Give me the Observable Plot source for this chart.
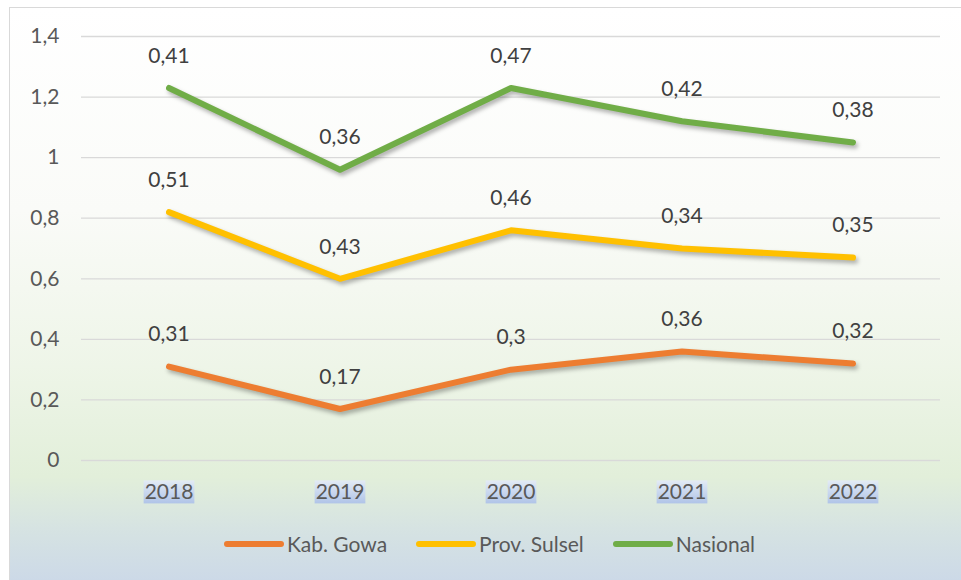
<!DOCTYPE html>
<html>
<head>
<meta charset="utf-8">
<script src="https://cdn.jsdelivr.net/npm/d3@7"></script>
<script src="https://cdn.jsdelivr.net/npm/@observablehq/plot@0.6"></script>
<style>
  html, body { margin: 0; padding: 0; background: #fff; }
  #frame {
    position: absolute; left: 9px; top: 7px; width: 960px; height: 580px;
    border: 1px solid #d9d9d9; box-sizing: border-box;
    background: linear-gradient(to bottom, #ffffff 0%, #fafbf8 35%, #eef5e8 62%, #e2efda 81%, #d6e3e2 90%, #cbd8e8 100%);
    font-family: Lato, "Open Sans", sans-serif; color: #595959;
  }
  #chart { position: absolute; left: 0; top: 0; }
  #legend {
    position: absolute; left: 0; width: 100%; top: 523px;
    display: flex; justify-content: center; align-items: center;
    font-size: 21px; color: #595959; padding-right: 0px; box-sizing: border-box;
  }
  .item { display: flex; align-items: center; margin: 0 14px; }
  .item svg { margin-right: 2px; }
</style>
</head>
<body>
<div id="frame">
  <div id="chart"></div>
  <div id="legend"></div>
</div>
<script>
const years = ["2018", "2019", "2020", "2021", "2022"];
const seriesNames = ["Kab. Gowa", "Prov. Sulsel", "Nasional"];
const kabGowa = [0.31, 0.17, 0.3, 0.36, 0.32];
const provSulsel = [0.51, 0.43, 0.46, 0.34, 0.35];
const nasional = [0.41, 0.36, 0.47, 0.42, 0.38];
const colors = ["#ED7D31", "#FFC000", "#70AD47"];
const yTicks = [0, 0.2, 0.4, 0.6, 0.8, 1, 1.2, 1.4];

const seriesValues = [kabGowa, provSulsel, nasional];
const fmt = v => String(v).replace(".", ",");

// stacked line data
const data = [];
years.forEach((yr, i) => {
  let cum = 0;
  seriesNames.forEach((s, k) => {
    const v = seriesValues[k][i];
    cum = Math.round((cum + v) * 1000) / 1000;
    data.push({year: yr, series: s, value: v, top: cum});
  });
});

const chart = Plot.plot({
  width: 951,
  height: 510,
  marginLeft: 71,
  marginRight: 21,
  marginTop: 28,
  marginBottom: 58,
  style: {background: "transparent", fontFamily: "Lato, 'Open Sans', sans-serif", fontSize: "21px", color: "#595959"},
  x: {type: "band", domain: years, padding: 0, label: null, tickSize: 0, tickPadding: 24},
  y: {domain: [0, 1.4], ticks: yTicks, label: null, tickSize: 0, tickPadding: 22, tickFormat: fmt},
  color: {domain: seriesNames, range: colors},
  marks: [
    Plot.gridY(yTicks, {stroke: "#d9d9d9", strokeOpacity: 1, strokeWidth: 1.3}),
    Plot.line(data, {x: "year", y: "top", z: "series", stroke: "series", strokeWidth: 6, strokeLinecap: "round", strokeLinejoin: "round"}),
    Plot.text(data, {x: "year", y: "top", text: d => fmt(d.value), dy: -32, fill: "#404040", fontSize: 21}),
    Plot.axisX({tickSize: 0, tickPadding: 24, fontSize: 21}),
    Plot.axisY({ticks: yTicks, tickSize: 0, tickPadding: 22, tickFormat: fmt, fontSize: 21})
  ]
});
document.getElementById("chart").appendChild(chart);

// shadow on line paths
d3.select(chart).selectAll("g[aria-label='line'] path").style("filter", "drop-shadow(2px 3px 2px rgba(0,0,0,0.3))");

// highlight behind x tick labels
const defs = d3.select(chart).append("defs");
const grad = defs.append("linearGradient").attr("id", "hl").attr("x1", 0).attr("y1", 0).attr("x2", 0).attr("y2", 1);
grad.append("stop").attr("offset", "0%").attr("stop-color", "#e3ebf5");
grad.append("stop").attr("offset", "100%").attr("stop-color", "#b0c4e8");
d3.select(chart).selectAll("g[aria-label='x-axis tick label'] text").each(function() {
  const b = this.getBBox();
  const parent = this.parentNode;
  const r = document.createElementNS("http://www.w3.org/2000/svg", "rect");
  r.setAttribute("x", b.x - 1);
  r.setAttribute("y", b.y + 2);
  r.setAttribute("width", b.width + 2);
  r.setAttribute("height", b.height - 2);
  r.setAttribute("fill", "url(#hl)");
  const t = this.getAttribute("transform");
  if (t) r.setAttribute("transform", t);
  parent.insertBefore(r, this);
});
d3.select(chart).selectAll("g[aria-label='x-axis tick label'], g[aria-label='y-axis tick label']").attr("fill", "#595959");

// legend
const legend = document.getElementById("legend");
seriesNames.forEach((s, k) => {
  const item = document.createElement("div");
  item.className = "item";
  item.innerHTML = `<svg width="62" height="10"><line x1="4" y1="5" x2="58" y2="5" stroke="${colors[k]}" stroke-width="6" stroke-linecap="round"/></svg><span>${s}</span>`;
  legend.appendChild(item);
});
</script>
</body>
</html>
